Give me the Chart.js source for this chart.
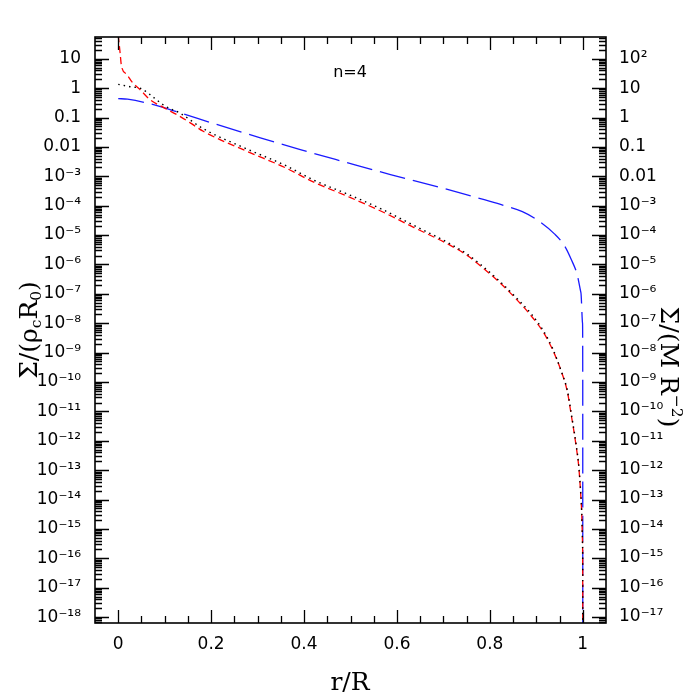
<!DOCTYPE html>
<html>
<head>
<meta charset="utf-8">
<script src="https://cdn.jsdelivr.net/npm/chart.js@4"></script>
<style>
  html, body { margin: 0; padding: 0; background: #fff; }
  #wrap { width: 698px; height: 698px; }
</style>
</head>
<body>
<div id="wrap"><canvas id="mainChart" width="698" height="698"></canvas></div>
<script>
// r/R and Σ for each curve
const rDot  = [0, 0.025, 0.05, 0.075, 0.1, 0.133, 0.183, 0.277, 0.36, 0.421, 0.493, 0.565, 0.637, 0.709, 0.752, 0.78, 0.82, 0.855, 0.89, 0.915, 0.935, 0.953, 0.967, 0.975, 0.985, 0.992, 0.997, 0.9995, 0.9999, 1.0];
const sDot  = [1.35, 1.12, 0.955, 0.5, 0.25, 0.141, 0.0417, 8.5e-3, 2.34e-3, 7.4e-4, 2.5e-4, 7.9e-5, 2.1e-5, 5.6e-6, 2.2e-6, 1e-6, 2.8e-7, 7.9e-8, 2e-8, 5.6e-9, 1.4e-9, 2.5e-10, 5e-11, 8.9e-12, 8.9e-13, 1.1e-13, 7.1e-15, 3.2e-16, 1e-17, 1e-22];

const rRed  = [0, 0.004, 0.007, 0.018, 0.03, 0.047, 0.068, 0.1, 0.126, 0.155, 0.183, 0.277, 0.36, 0.421, 0.493, 0.565, 0.637, 0.709, 0.752, 0.78, 0.82, 0.855, 0.89, 0.915, 0.935, 0.953, 0.967, 0.975, 0.985, 0.992, 0.997, 0.9995, 0.9999, 1.0];
const sRed  = [63, 16, 5.6, 3.0, 1.6, 0.89, 0.41, 0.21, 0.126, 0.066, 0.034, 7.1e-3, 1.95e-3, 6.3e-4, 2.1e-4, 6.6e-5, 1.8e-5, 5e-6, 2e-6, 8.9e-7, 2.5e-7, 7.1e-8, 1.7e-8, 5e-9, 1.26e-9, 2.5e-10, 4.5e-11, 7.9e-12, 7.9e-13, 1e-13, 6.3e-15, 3.2e-16, 1e-17, 1e-22];

const rBlue = [0, 0.02, 0.076, 0.133, 0.212, 0.306, 0.392, 0.49, 0.586, 0.69, 0.788, 0.823, 0.87, 0.903, 0.939, 0.96, 0.975, 0.988, 0.996, 0.9995, 0.99995, 1.0];
const sBlue = [0.44, 0.42, 0.275, 0.145, 0.058, 0.0204, 8.1e-3, 3.0e-3, 1.15e-3, 4.3e-4, 1.6e-4, 1.1e-4, 6.3e-5, 3.2e-5, 1.1e-5, 4.5e-6, 1.5e-6, 4.5e-7, 1.1e-7, 1e-8, 1e-10, 1e-22];

// tick labels
const xTicks = [0, 0.2, 0.4, 0.6, 0.8, 1];
const xLabels = ['0', '0.2', '0.4', '0.6', '0.8', '1'];
const leftTicks = [10, 1, 0.1, 0.01, 1e-3, 1e-4, 1e-5, 1e-6, 1e-7, 1e-8, 1e-9, 1e-10, 1e-11, 1e-12, 1e-13, 1e-14, 1e-15, 1e-16, 1e-17, 1e-18];
const leftLabels = ['10', '1', '0.1', '0.01', '10⁻³', '10⁻⁴', '10⁻⁵', '10⁻⁶', '10⁻⁷', '10⁻⁸', '10⁻⁹', '10⁻¹⁰', '10⁻¹¹', '10⁻¹²', '10⁻¹³', '10⁻¹⁴', '10⁻¹⁵', '10⁻¹⁶', '10⁻¹⁷', '10⁻¹⁸'];
const rightTicks = [100, 10, 1, 0.1, 0.01, 1e-3, 1e-4, 1e-5, 1e-6, 1e-7, 1e-8, 1e-9, 1e-10, 1e-11, 1e-12, 1e-13, 1e-14, 1e-15, 1e-16, 1e-17];
const rightLabels = ['10²', '10', '1', '0.1', '0.01', '10⁻³', '10⁻⁴', '10⁻⁵', '10⁻⁶', '10⁻⁷', '10⁻⁸', '10⁻⁹', '10⁻¹⁰', '10⁻¹¹', '10⁻¹²', '10⁻¹³', '10⁻¹⁴', '10⁻¹⁵', '10⁻¹⁶', '10⁻¹⁷'];

const toPts = (xs, ys) => xs.map((x, i) => ({ x: x, y: ys[i] }));
const tickFont = { family: 'DejaVu Sans', size: 17 };

// draw text with sub/superscripts, centred at (x, y)
function rich(ctx, parts, x, y, rot, size, family) {
    const fontOf = k => (k ? size * 0.62 : size) + 'px "' + family + '"';
    let w = 0;
    parts.forEach(p => { ctx.font = fontOf(p[1]); w += ctx.measureText(p[0]).width; });
    ctx.save();
    ctx.translate(x, y);
    ctx.rotate(rot);
    ctx.textBaseline = 'middle';
    ctx.textAlign = 'left';
    let cx = -w / 2;
    parts.forEach(p => {
        ctx.font = fontOf(p[1]);
        const dy = p[1] === 1 ? size * 0.28 : (p[1] === 2 ? -size * 0.38 : 0);
        ctx.fillText(p[0], cx, dy);
        cx += ctx.measureText(p[0]).width;
    });
    ctx.restore();
}

const decor = {
    id: 'decor',
    afterDraw(chart) {
        const { ctx, chartArea: a, scales } = chart;
        const ys = scales.y, xs = scales.x;
        ctx.save();
        ctx.strokeStyle = '#000';
        ctx.lineWidth = 1.3;
        ctx.beginPath();
        // log ticks, same pixel rows on both sides
        for (let e = -19; e <= 1; e++) {
            for (let m = 1; m <= 9; m++) {
                const v = m * Math.pow(10, e);
                if (v < ys.min || v > ys.max) continue;
                const py = Math.round(ys.getPixelForValue(v)) + 0.5;
                const len = m === 1 ? 14 : 7;
                ctx.moveTo(a.left, py); ctx.lineTo(a.left + len, py);
                ctx.moveTo(a.right, py); ctx.lineTo(a.right - len, py);
            }
        }
        for (let i = 0; i <= 20; i++) {
            const px = Math.round(xs.getPixelForValue(i * 0.05)) + 0.5;
            const len = i % 4 === 0 ? 13 : 7;
            ctx.moveTo(px, a.bottom); ctx.lineTo(px, a.bottom - len);
            ctx.moveTo(px, a.top); ctx.lineTo(px, a.top + len);
        }
        ctx.stroke();
        ctx.lineWidth = 1.6;
        ctx.strokeRect(a.left, a.top, a.right - a.left, a.bottom - a.top);

        ctx.fillStyle = '#000';
        ctx.font = '16px "DejaVu Sans"';
        ctx.textAlign = 'center';
        ctx.textBaseline = 'middle';
        ctx.fillText('n=4', 350, 73);

        rich(ctx, [['r/R', 0]], 350, 683, 0, 25, 'DejaVu Serif');
        rich(ctx, [['Σ/(ρ', 0], ['c', 1], ['R', 0], ['0', 1], [')', 0]], 30, 330, -Math.PI / 2, 25, 'DejaVu Serif');
        rich(ctx, [['Σ/(M R', 0], ['−2', 2], [')', 0]], 667, 367, Math.PI / 2, 25, 'DejaVu Serif');
        ctx.restore();
    }
};

new Chart(document.getElementById('mainChart').getContext('2d'), {
    type: 'scatter',
    data: {
        datasets: [{
            label: 'dotted',
            data: toPts(rDot, sDot),
            showLine: true,
            cubicInterpolationMode: 'monotone',
            borderColor: '#000',
            borderWidth: 1.4,
            borderDash: [1.5, 4],
            pointRadius: 0
        }, {
            label: 'red',
            data: toPts(rRed, sRed),
            showLine: true,
            cubicInterpolationMode: 'monotone',
            borderColor: '#ff0000',
            borderWidth: 1.3,
            borderDash: [7, 4],
            pointRadius: 0
        }, {
            label: 'blue',
            data: toPts(rBlue, sBlue),
            showLine: true,
            cubicInterpolationMode: 'monotone',
            borderColor: '#1a1aff',
            borderWidth: 1.3,
            borderDash: [26, 8],
            pointRadius: 0
        }]
    },
    options: {
        responsive: false,
        animation: false,
        layout: { padding: { top: 37, left: 0, right: 0, bottom: 0 } },
        plugins: { legend: { display: false }, tooltip: { enabled: false } },
        scales: {
            x: {
                type: 'linear', min: -0.05, max: 1.05,
                grid: { display: false, drawTicks: false },
                border: { display: false },
                afterBuildTicks: s => { s.ticks = xTicks.map(v => ({ value: v })); },
                afterFit: s => { s.height = 75; },
                ticks: { padding: 11, color: '#000', font: tickFont, maxRotation: 0, autoSkip: false,
                         callback: (v, i) => xLabels[i] }
            },
            y: {
                type: 'logarithmic', position: 'left', min: 6.3e-19, max: 55,
                grid: { display: false, drawTicks: false },
                border: { display: false },
                afterBuildTicks: s => { s.ticks = leftTicks.map(v => ({ value: v })); },
                afterFit: s => { s.width = 95; },
                ticks: { padding: 14, color: '#000', font: tickFont, autoSkip: false,
                         callback: (v, i) => leftLabels[i] }
            },
            y2: {
                type: 'logarithmic', position: 'right', min: 6.3e-18, max: 550,
                grid: { display: false, drawTicks: false },
                border: { display: false },
                afterBuildTicks: s => { s.ticks = rightTicks.map(v => ({ value: v })); },
                afterFit: s => { s.width = 92; },
                ticks: { padding: 13, color: '#000', font: tickFont, autoSkip: false,
                         callback: (v, i) => rightLabels[i] }
            }
        }
    },
    plugins: [decor]
});
</script>
</body>
</html>
